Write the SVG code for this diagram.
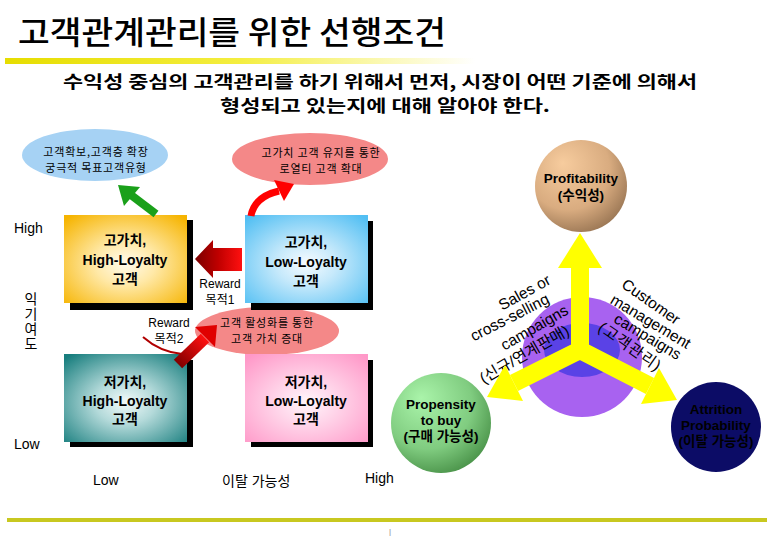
<svg xmlns="http://www.w3.org/2000/svg" width="780" height="540" viewBox="0 0 780 540">
<defs>
<style>
.ko{font-family:'Noto Sans CJK KR','Liberation Sans',sans-serif;}
.lat{font-family:'Liberation Sans','Noto Sans CJK KR',sans-serif;}
.box{font-family:'Liberation Sans','Noto Sans CJK KR',sans-serif;font-weight:bold;font-size:14px;text-anchor:middle;fill:#000;}
.ell{font-family:'Noto Sans CJK KR','Liberation Sans',sans-serif;font-size:11px;letter-spacing:0.8px;text-anchor:middle;fill:#000;}
.ax{font-family:'Liberation Sans','Noto Sans CJK KR',sans-serif;font-size:14px;fill:#000;}
.sm{font-family:'Liberation Sans','Noto Sans CJK KR',sans-serif;font-size:12px;text-anchor:middle;fill:#000;}
.rot{font-family:'Liberation Sans','Noto Sans CJK KR',sans-serif;font-size:15.5px;text-anchor:middle;fill:#000;}
.cir{font-family:'Liberation Sans','Noto Sans CJK KR',sans-serif;font-weight:bold;font-size:13.5px;text-anchor:middle;fill:#000;}
.shadow{fill:#000;}
</style>
<linearGradient id="titleLine" x1="0" y1="0" x2="1" y2="0">
<stop offset="0" stop-color="#e6dd00"/>
<stop offset="0.5" stop-color="#f4ee40"/>
<stop offset="1" stop-color="#ffffff"/>
</linearGradient>
<radialGradient id="gGold" cx="0.5" cy="0.55" r="0.7">
<stop offset="0" stop-color="#fffbee"/>
<stop offset="0.35" stop-color="#ffe9a8"/>
<stop offset="1" stop-color="#f6b400"/>
</radialGradient>
<radialGradient id="gBlue" cx="0.5" cy="0.55" r="0.7">
<stop offset="0" stop-color="#f6fbff"/>
<stop offset="0.35" stop-color="#c6e9fb"/>
<stop offset="1" stop-color="#52bff3"/>
</radialGradient>
<radialGradient id="gTeal" cx="0.5" cy="0.55" r="0.7">
<stop offset="0" stop-color="#f2fafa"/>
<stop offset="0.35" stop-color="#b4dada"/>
<stop offset="1" stop-color="#187e7e"/>
</radialGradient>
<radialGradient id="gPink" cx="0.5" cy="0.55" r="0.7">
<stop offset="0" stop-color="#fff6fb"/>
<stop offset="0.35" stop-color="#ffd6ea"/>
<stop offset="1" stop-color="#ff98c8"/>
</radialGradient>
<radialGradient id="gTan" cx="0.4" cy="0.35" r="0.75" fx="0.3" fy="0.25">
<stop offset="0" stop-color="#f7cc9e"/>
<stop offset="0.6" stop-color="#d9ac80"/>
<stop offset="1" stop-color="#8e6c4c"/>
</radialGradient>
<radialGradient id="gGreen" cx="0.4" cy="0.35" r="0.75" fx="0.3" fy="0.25">
<stop offset="0" stop-color="#aaf4aa"/>
<stop offset="0.6" stop-color="#80cc80"/>
<stop offset="1" stop-color="#40883f"/>
</radialGradient>
<linearGradient id="gRedL" x1="0" y1="0" x2="1" y2="0">
<stop offset="0" stop-color="#7a0000"/>
<stop offset="0.5" stop-color="#c00000"/>
<stop offset="1" stop-color="#ff1010"/>
</linearGradient>
<linearGradient id="gRed2" x1="0" y1="1" x2="1" y2="0">
<stop offset="0" stop-color="#800000"/>
<stop offset="1" stop-color="#ff1010"/>
</linearGradient>
</defs>
<rect width="780" height="540" fill="#ffffff"/>

<!-- title -->
<g id="title">
<text x="18" y="44" class="ko" font-size="32" font-weight="500" textLength="428" lengthAdjust="spacingAndGlyphs" fill="#000">고객관계관리를 위한 선행조건</text>
<rect x="5" y="58" width="470" height="6" fill="url(#titleLine)"/>
<text x="380" y="88" class="ko" font-size="16.5" font-weight="bold" text-anchor="middle" textLength="634" lengthAdjust="spacingAndGlyphs" fill="#000">수익성 중심의 고객관리를 하기 위해서 먼저, 시장이 어떤 기준에 의해서</text>
<text x="385" y="112" class="ko" font-size="16.5" font-weight="bold" text-anchor="middle" textLength="330" lengthAdjust="spacingAndGlyphs" fill="#000">형성되고 있는지에 대해 알아야 한다.</text>
</g>

<!-- goal ellipses -->
<g id="goal-blue">
<ellipse cx="95" cy="155" rx="73" ry="26" fill="#a6d2f4"/>
<text x="96" y="156" class="ell">고객확보,고객층 확장</text>
<text x="96" y="172" class="ell">궁극적 목표고객유형</text>
</g>
<g id="goal-pink">
<ellipse cx="310" cy="159" rx="78" ry="26" fill="#f48888"/>
<text x="321" y="157" class="ell">고가치 고객 유지를 통한</text>
<text x="321" y="173" class="ell">로열티 고객 확대</text>
</g>
<g id="goal-pink2">
<ellipse cx="267" cy="331" rx="72" ry="24" fill="#f48888"/>
<text x="267" y="327" class="ell">고객 활성화를 통한</text>
<text x="267" y="343" class="ell">고객 가치 증대</text>
</g>

<!-- quadrant boxes -->
<g id="box-gold">
<rect x="70" y="220" width="123" height="90" class="shadow"/>
<rect x="64" y="215" width="123" height="88" fill="url(#gGold)"/>
<text x="125" y="245" class="box">고가치,</text>
<text x="125" y="265" class="box">High-Loyalty</text>
<text x="125" y="284" class="box">고객</text>
</g>
<g id="box-blue">
<rect x="251" y="221" width="122" height="89" class="shadow"/>
<rect x="245" y="215" width="123" height="88" fill="url(#gBlue)"/>
<text x="306" y="247" class="box">고가치,</text>
<text x="306" y="267" class="box">Low-Loyalty</text>
<text x="306" y="286" class="box">고객</text>
</g>
<g id="box-teal">
<rect x="70" y="360" width="123" height="87" class="shadow"/>
<rect x="64" y="354" width="123" height="88" fill="url(#gTeal)"/>
<text x="125" y="387" class="box">저가치,</text>
<text x="125" y="406" class="box">High-Loyalty</text>
<text x="125" y="424" class="box">고객</text>
</g>
<g id="box-pink">
<rect x="251" y="360" width="122" height="87" class="shadow"/>
<rect x="245" y="354" width="123" height="88" fill="url(#gPink)"/>
<text x="306" y="387" class="box">저가치,</text>
<text x="306" y="406" class="box">Low-Loyalty</text>
<text x="306" y="424" class="box">고객</text>
</g>

<!-- axis labels -->
<g id="axes">
<text x="14" y="233" class="ax">High</text>
<text x="14" y="449" class="ax">Low</text>
<text x="93" y="485" class="ax">Low</text>
<text x="222" y="486" class="ax">이탈 가능성</text>
<text x="365" y="483" class="ax">High</text>
<text x="31" y="292" class="ko" font-size="14" writing-mode="tb" letter-spacing="1" fill="#000">익기여도</text>
<text x="220" y="288" class="sm">Reward</text>
<text x="220" y="304" class="sm">목적1</text>
<text x="169" y="327" class="sm">Reward</text>
<text x="169" y="343" class="sm">목적2</text>
</g>

<!-- right cluster -->
<g id="hub">
<circle cx="582" cy="357" r="60" fill="#a862f0"/>
<ellipse cx="582" cy="350" rx="38" ry="27" fill="#5a42e6"/>
</g>
<g id="hub-labels">
<text class="rot" transform="translate(527,297) rotate(-29)">Sales or</text>
<text class="rot" transform="translate(512,322) rotate(-27)">cross-selling</text>
<text class="rot" transform="translate(537,332) rotate(-30)">campaigns</text>
<text class="rot" transform="translate(527,359) rotate(-30)">(신규/연계판매)</text>
<text class="rot" transform="translate(648,306) rotate(35)">Customer</text>
<text class="rot" transform="translate(648,326) rotate(31)">management</text>
<text class="rot" transform="translate(645,341) rotate(31)">campaigns</text>
<text class="rot" letter-spacing="1" transform="translate(627,351) rotate(35)">(고객관리)</text>
</g>
<g id="profitability">
<circle cx="581" cy="186" r="46" fill="url(#gTan)"/>
<text x="581" y="183" class="cir" font-size="14">Profitability</text>
<text x="581" y="200" class="cir" font-size="14">(수익성)</text>
</g>
<g id="propensity">
<circle cx="441" cy="423" r="50" fill="url(#gGreen)"/>
<text x="441" y="409" class="cir">Propensity</text>
<text x="441" y="425" class="cir">to buy</text>
<text x="441" y="441" class="cir">(구매 가능성)</text>
</g>
<g id="attrition">
<circle cx="716" cy="427" r="45" fill="#0c0c66"/>
<text x="716" y="414" class="cir" font-size="14">Attrition</text>
<text x="716" y="430" class="cir" font-size="14">Probability</text>
<text x="716" y="446" class="cir" font-size="14">(이탈 가능성)</text>
</g>

<!-- connectors -->
<g id="connectors">
<g id="yellow-y" fill="#ffff00">
<path d="M580,266 L580,350 M514,383 L580,350 L650,386" fill="none" stroke="#ffff00" stroke-width="18" stroke-linejoin="miter" stroke-miterlimit="4"/>
<polygon points="558,268 602,268 580,233"/>
<polygon points="487,397 523,401 505,365"/>
<polygon points="677,400 641,404 659,368"/>
</g>
<g id="green-arrow">
<line x1="156" y1="214" x2="131" y2="195" stroke="#1aa01a" stroke-width="8"/>
<polygon points="118,185 140,187 124,206" fill="#1aa01a"/>
</g>
<g id="red-arrow-1">
<path d="M251,216 C253,204 262,195 279,191" fill="none" stroke="#ff0000" stroke-width="7"/>
<polygon points="294,184 274,180 284,201" fill="#ff0000"/>
</g>
<g id="red-arrow-left">
<polygon points="195,259 213,240 213,248 242,248 242,271 213,271 213,278" fill="url(#gRedL)"/>
</g>
<g id="red-arrow-2">
<path d="M143,337 Q160,352 182,354" fill="none" stroke="#b00000" stroke-width="2"/>
<line x1="178" y1="364" x2="205" y2="338" stroke="url(#gRed2)" stroke-width="12"/>
<polygon points="217,325 215,347 195,327" fill="#e00000"/>
</g>
</g>

<!-- footer -->
<g id="footer">
<rect x="7" y="518" width="760" height="4" fill="#c8c820"/>
<text x="389" y="534" class="lat" font-size="8" fill="#888">|</text>
</g>
</svg>
